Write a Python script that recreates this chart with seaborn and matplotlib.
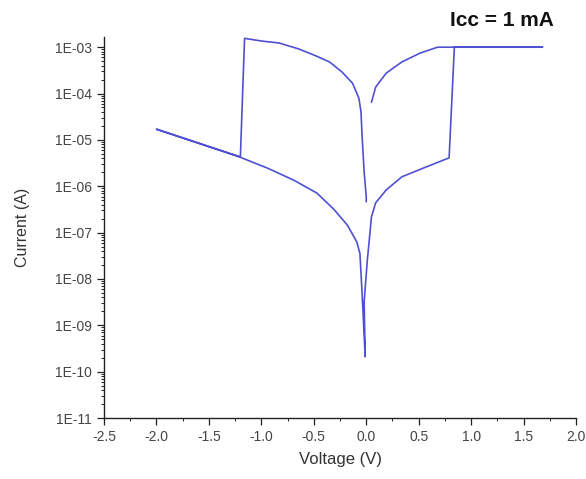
import numpy as np
import pandas as pd
import seaborn as sns
import matplotlib.pyplot as plt
from matplotlib.ticker import FixedLocator, FixedFormatter, LogLocator, NullFormatter, MultipleLocator

# ── Data (in sweep order) ─────────────────────────────────────────────────────
voltage = [
    0.00, 0.00, -0.02, -0.04, -0.05, -0.07, -0.13, -0.23, -0.35, -0.48,
    -0.64, -0.83, -0.99, -1.16, -1.20, -2.00, -1.21, -0.94, -0.69, -0.47,
    -0.31, -0.18, -0.09, -0.06, -0.04, -0.01, -0.02, 0.01, 0.05, 0.09,
    0.19, 0.34, 0.57, 0.79, 0.84, 1.68, 0.68, 0.51, 0.34, 0.19,
    0.09, 0.05,
]
current = [
    4.6e-7, 5.9e-7, 2.0e-6, 1.26e-5, 4.0e-5, 7.9e-5, 1.66e-4, 2.9e-4, 4.8e-4, 6.5e-4,
    9.1e-4, 1.23e-3, 1.35e-3, 1.55e-3, 4.3e-6, 1.7e-5, 4.3e-6, 2.45e-6, 1.35e-6, 7.1e-7,
    3.2e-7, 1.45e-7, 6.3e-8, 3.5e-8, 5.0e-9, 2.1e-10, 3.2e-9, 2.5e-8, 2.2e-7, 4.4e-7,
    8.3e-7, 1.6e-6, 2.6e-6, 4.1e-6, 1.0e-3, 1.0e-3, 1.0e-3, 7.4e-4, 4.8e-4, 2.75e-4,
    1.38e-4, 6.5e-5,
]
x_ticks = [-2.5, -2.0, -1.5, -1.0, -0.5, 0.0, 0.5, 1.0, 1.5, 2.0]
x_tick_labels = ["-2.5", "-2.0", "-1.5", "-1.0", "-0.5", "0.0", "0.5", "1.0", "1.5", "2.0"]
y_ticks = [1e-11, 1e-10, 1e-9, 1e-8, 1e-7, 1e-6, 1e-5, 1e-4, 1e-3]
y_tick_labels = ["1E-11", "1E-10", "1E-09", "1E-08", "1E-07", "1E-06", "1E-05", "1E-04", "1E-03"]

df = pd.DataFrame({"Voltage": voltage, "Current": current})

# ── Plot ──────────────────────────────────────────────────────────────────────
sns.set_style("white")
plt.rcParams["font.family"] = ["Liberation Sans", "DejaVu Sans"]

fig = plt.figure(figsize=(5.86, 4.79), dpi=100)
ax = fig.add_axes([0.1775, 0.1273, 0.8055, 0.7955])

sns.lineplot(
    data=df, x="Voltage", y="Current", sort=False, estimator=None,
    color="#5050d4", linewidth=1.2, ax=ax,
)

ax.set_yscale("log")
ax.set_xlim(-2.5, 2.0)
ax.set_ylim(1e-11, 10 ** -2.78)

ax.xaxis.set_major_locator(FixedLocator(x_ticks))
ax.xaxis.set_major_formatter(FixedFormatter(x_tick_labels))
ax.xaxis.set_minor_locator(MultipleLocator(0.25))
ax.yaxis.set_major_locator(FixedLocator(y_ticks))
ax.yaxis.set_major_formatter(FixedFormatter(y_tick_labels))
ax.yaxis.set_minor_locator(LogLocator(base=10, subs=np.arange(2, 10), numticks=20))
ax.yaxis.set_minor_formatter(NullFormatter())

ax.tick_params(axis="both", which="major", direction="out", length=5, width=0.9,
               colors="#222222", labelsize=10, labelcolor="#444444", bottom=True, left=True)
ax.tick_params(axis="both", which="minor", direction="out", length=2.5, width=0.7,
               colors="#222222", bottom=True, left=True)

for side in ["top", "right"]:
    ax.spines[side].set_visible(False)
for side in ["left", "bottom"]:
    ax.spines[side].set_color("#222222")
    ax.spines[side].set_linewidth(1.0)

ax.set_xlabel("Voltage (V)", fontsize=12, color="#333333", labelpad=6)
ax.set_ylabel("Current (A)", fontsize=11.5, color="#333333", labelpad=18)

fig.text(0.857, 0.958, "Icc = 1 mA", fontsize=15, fontweight="bold",
         ha="center", va="center", color="#111111")

fig.savefig("out.png", dpi=100)
